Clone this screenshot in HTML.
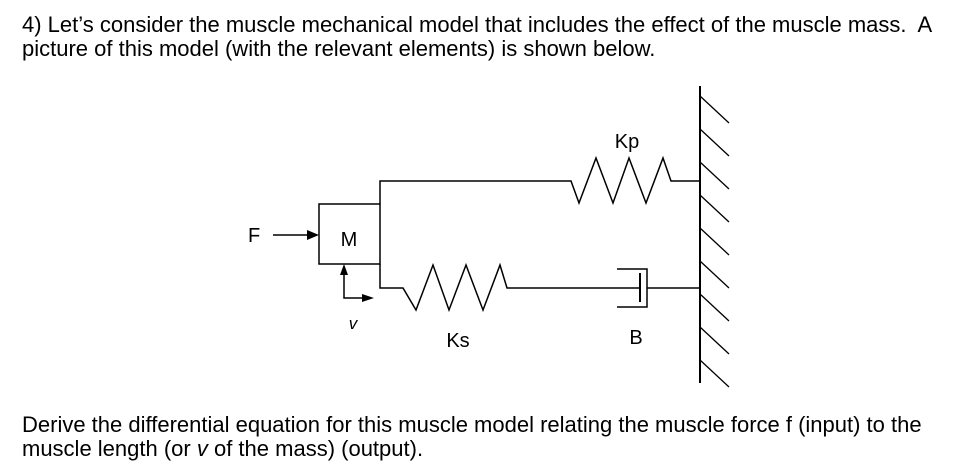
<!DOCTYPE html>
<html><head><style>
html,body{margin:0;padding:0;background:#fff;}
body{width:958px;height:469px;position:relative;overflow:hidden;font-family:"Liberation Sans",Arial,sans-serif;color:#000;}
.t{position:absolute;left:22px;font-size:22px;line-height:24px;white-space:nowrap;}
</style></head><body>
<div class="t" style="top:13px">4) Let’s consider the muscle mechanical model that includes the effect of the muscle mass.&nbsp; A<br>picture of this model (with the relevant elements) is shown below.</div>
<svg width="958" height="469" style="position:absolute;left:0;top:0" xmlns="http://www.w3.org/2000/svg">
<g fill="none" stroke="#000" stroke-width="1.5">
<rect x="319" y="204" width="61" height="60"/>
<polyline points="380,204 380,181 571,181 579,203 596,158 613,203 629,158 646,203 663,158 671,181 700,181"/>
<polyline points="380,264 380,288 403,288 416,310 433,265 449,310 466,265 483,310 500,265 507,288 640,288"/>
<polyline points="617,269 647,269 647,307 617,307"/>
<line x1="640" y1="273" x2="640" y2="302" stroke-width="2"/>
<line x1="647" y1="288" x2="700" y2="288"/>
<line x1="700" y1="86" x2="700" y2="383" stroke-width="2"/>
<line x1="273" y1="235" x2="310" y2="235"/>
<polyline points="344,273 344,298 364,298"/>
</g>
<g stroke="#000" stroke-width="1.3">
<line x1="700" y1="96" x2="729" y2="123"/><line x1="700" y1="129" x2="729" y2="156"/>
<line x1="700" y1="162" x2="729" y2="189"/><line x1="700" y1="195" x2="729" y2="222"/>
<line x1="700" y1="228" x2="729" y2="255"/><line x1="700" y1="261" x2="729" y2="288"/>
<line x1="700" y1="294" x2="729" y2="321"/><line x1="700" y1="327" x2="729" y2="354"/>
<line x1="700" y1="360" x2="729" y2="387"/>
</g>
<polygon points="319,235 307,230 307,240" fill="#000"/>
<polygon points="344,264 340,275 348,275" fill="#000"/>
<polygon points="374,298 362,294 362,302" fill="#000"/>
<g font-family="Liberation Sans,Arial,sans-serif" font-size="20" fill="#000">
<text x="248" y="242">F</text>
<text x="349" y="246" text-anchor="middle">M</text>
<text x="353" y="329" text-anchor="middle" font-style="italic" font-size="17">v</text>
<text x="458" y="347" text-anchor="middle">Ks</text>
<text x="636" y="344" text-anchor="middle">B</text>
<text x="627" y="148" text-anchor="middle">Kp</text>
</g>
</svg>
<div class="t" style="top:413px">Derive the differential equation for this muscle model relating the muscle force f (input) to the<br>muscle length (or <i>v</i> of the mass) (output).</div>
</body></html>
